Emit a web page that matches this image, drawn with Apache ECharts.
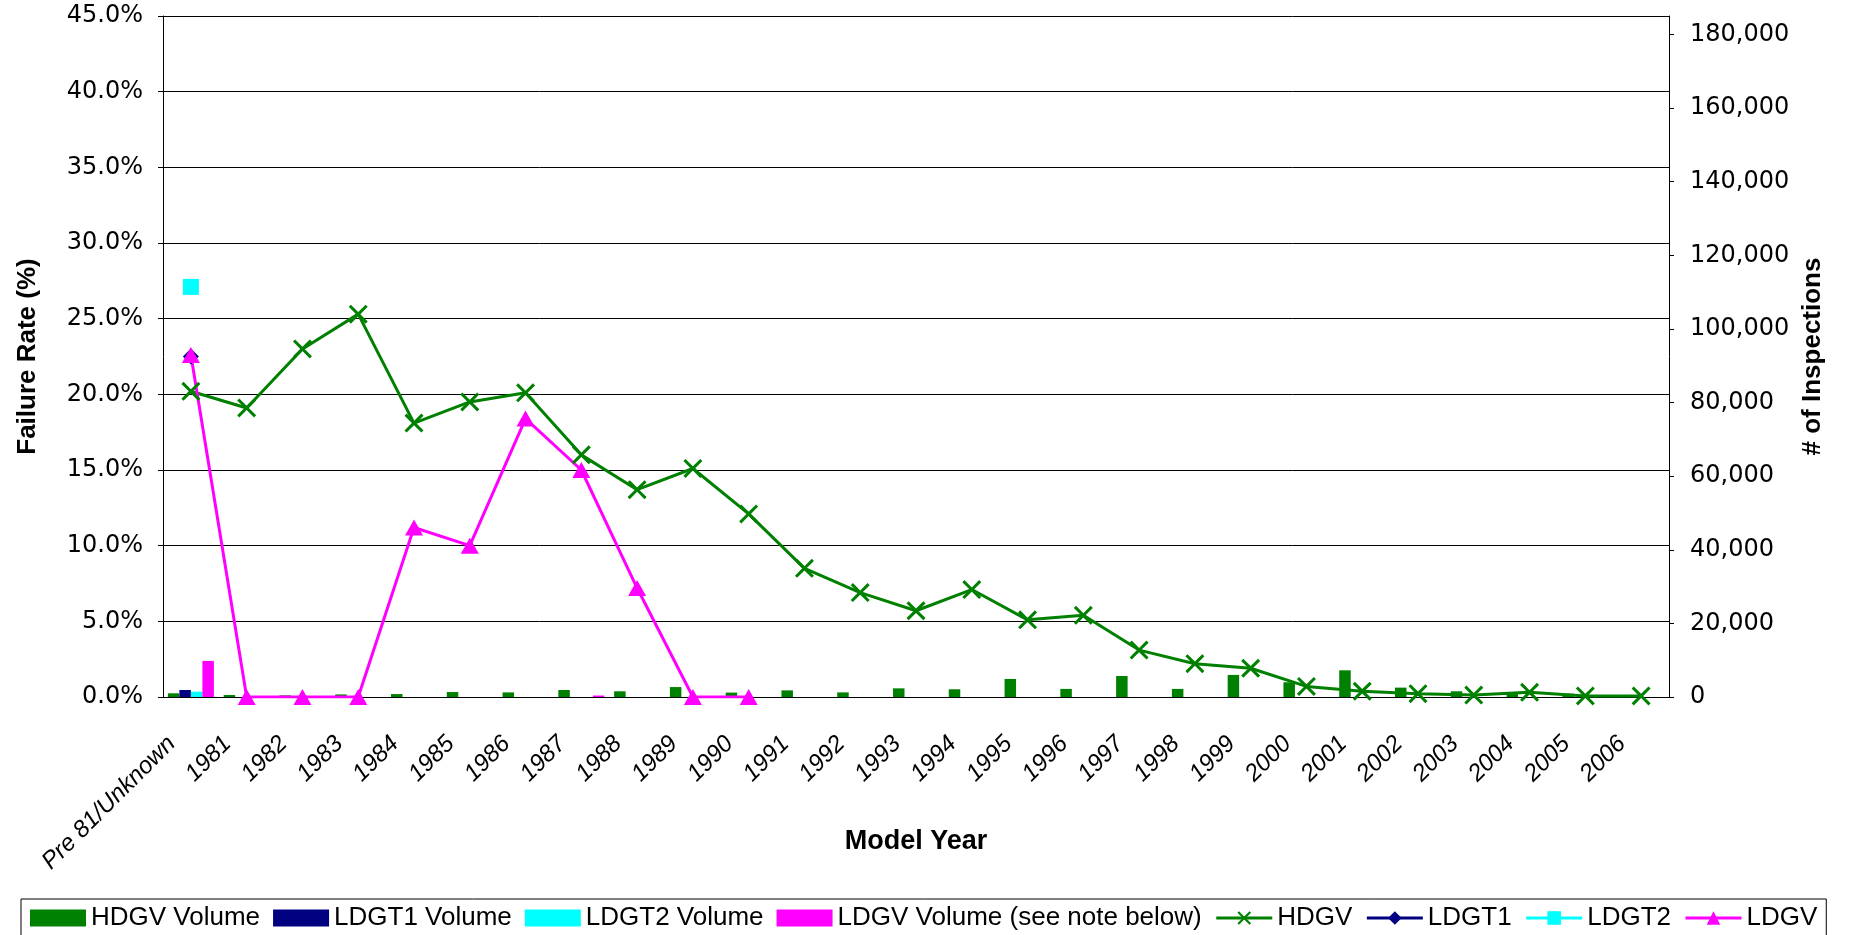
<!DOCTYPE html>
<html>
<head>
<meta charset="utf-8">
<script src="https://cdn.jsdelivr.net/npm/echarts@6/dist/echarts.min.js"></script>
<style>
  html, body { margin: 0; padding: 0; background: #fff; }
  #chart { width: 1864px; height: 935px; }
</style>
</head>
<body>
<div id="chart"></div>
<script>
// model years on the x axis
var categories = ['Pre 81/Unknown', '1981', '1982', '1983', '1984', '1985', '1986', '1987', '1988', '1989',
  '1990', '1991', '1992', '1993', '1994', '1995', '1996', '1997', '1998', '1999',
  '2000', '2001', '2002', '2003', '2004', '2005', '2006'];

// inspection volumes (right axis)
var hdgvVolume = [1000, 550, 450, 700, 800, 1350, 1250, 1900, 1550, 2700,
  1200, 1800, 1250, 2350, 2100, 4900, 2200, 5700, 2200, 6000,
  4000, 7250, 2550, 1550, 1100, 900, 350];
var ldgt1Volume = [1900];
var ldgt2Volume = [1450];
var ldgvVolume = [9800, null, null, null, null, null, null, 400];

// failure rates in % (left axis)
var hdgvRate = [20.2, 19.1, 23.0, 25.3, 18.1, 19.5, 20.1, 16.0, 13.7, 15.1,
  12.1, 8.5, 6.9, 5.7, 7.1, 5.1, 5.4, 3.1, 2.2, 1.9,
  0.7, 0.38, 0.22, 0.13, 0.31, 0.07, 0.07];
var ldgt1Rate = [22.5];
var ldgt2Rate = [27.1];
var ldgvRate = [22.6, 0, 0, 0, 11.2, 10.0, 18.4, 15.0, 7.2, 0, 0];

// tick labels of the right axis
var rightTicks = [0, 20000, 40000, 60000, 80000, 100000, 120000, 140000, 160000, 180000];

var tickFont = { fontFamily: 'DejaVu Sans', fontSize: 24, color: '#000' };
var titleFont = { fontFamily: 'Liberation Sans', fontWeight: 'bold', fontSize: 26, color: '#000' };
var xSymbol = 'path://M0,1.8 L1.8,0 L8,6.2 L14.2,0 L16,1.8 L9.8,8 L16,14.2 L14.2,16 L8,9.8 L1.8,16 L0,14.2 L6.2,8 Z';

var myChart = echarts.init(document.getElementById('chart'));
var option = {
  backgroundColor: '#fff',
  animation: false,
  grid: { left: 163, right: 195, top: 16, bottom: 238 },
  legend: {
    left: 21,
    top: 899,
    padding: [6, 9],
    itemWidth: 56,
    itemHeight: 17,
    itemGap: 13,
    borderColor: '#000',
    borderWidth: 1,
    lineStyle: { width: 3 },
    textStyle: { fontFamily: 'Liberation Sans', fontSize: 26, color: '#000' },
    data: [
      { name: 'HDGV Volume', icon: 'rect' },
      { name: 'LDGT1 Volume', icon: 'rect' },
      { name: 'LDGT2 Volume', icon: 'rect' },
      { name: 'LDGV Volume (see note below)', icon: 'rect' },
      'HDGV', 'LDGT1', 'LDGT2', 'LDGV'
    ]
  },
  xAxis: {
    type: 'category',
    data: categories,
    name: 'Model Year',
    nameLocation: 'middle',
    nameGap: 131,
    nameMoveOverlap: false,
    nameTextStyle: { fontFamily: 'Liberation Sans', fontWeight: 'bold', fontSize: 27, color: '#000' },
    axisLine: { lineStyle: { color: '#000', width: 1 } },
    axisTick: { length: 6, lineStyle: { color: '#000' } },
    axisLabel: {
      rotate: 45,
      interval: 0,
      margin: 24,
      padding: [0, 27, 0, 0],
      fontFamily: 'Liberation Sans',
      fontStyle: 'italic',
      fontSize: 24,
      color: '#000'
    }
  },
  yAxis: [
    {
      type: 'value',
      min: 0,
      max: 45,
      interval: 5,
      name: 'Failure Rate (%)',
      nameLocation: 'middle',
      nameRotate: 90,
      nameGap: 122,
      nameTextStyle: titleFont,
      axisLine: { show: true, lineStyle: { color: '#000' } },
      axisTick: { show: true, length: 5, lineStyle: { color: '#000' } },
      axisLabel: Object.assign({ margin: 20, formatter: function (v) { return v.toFixed(1) + '%'; } }, tickFont),
      splitLine: { lineStyle: { color: '#000', width: 1 } }
    },
    {
      type: 'value',
      position: 'right',
      min: 0,
      max: 185000,
      interval: 20000,
      name: '# of Inspections',
      nameLocation: 'middle',
      nameRotate: 90,
      nameGap: 128,
      nameTextStyle: titleFont,
      axisLine: { show: true, lineStyle: { color: '#000' } },
      axisTick: { show: true, length: 5, customValues: rightTicks, lineStyle: { color: '#000' } },
      axisLabel: Object.assign({
        margin: 21,
        customValues: rightTicks,
        formatter: function (v) { return v.toLocaleString('en-US'); }
      }, tickFont),
      splitLine: { show: false }
    }
  ],
  series: [
    { name: 'HDGV Volume', type: 'bar', yAxisIndex: 1, data: hdgvVolume, barWidth: 11.5, barGap: '0%', itemStyle: { color: '#008000' } },
    { name: 'LDGT1 Volume', type: 'bar', yAxisIndex: 1, data: ldgt1Volume, barWidth: 11.5, barGap: '0%', itemStyle: { color: '#000080' } },
    { name: 'LDGT2 Volume', type: 'bar', yAxisIndex: 1, data: ldgt2Volume, barWidth: 11.5, barGap: '0%', itemStyle: { color: '#00FFFF' } },
    { name: 'LDGV Volume (see note below)', type: 'bar', yAxisIndex: 1, data: ldgvVolume, barWidth: 11.5, barGap: '0%', itemStyle: { color: '#FF00FF' } },
    {
      name: 'HDGV', type: 'line', yAxisIndex: 0, data: hdgvRate,
      symbol: xSymbol, symbolSize: 19,
      lineStyle: { color: '#008000', width: 3 },
      itemStyle: { color: '#008000', borderWidth: 0 }
    },
    {
      name: 'LDGT1', type: 'line', yAxisIndex: 0, data: ldgt1Rate,
      symbol: 'diamond', symbolSize: 16,
      lineStyle: { color: '#000080', width: 3 },
      itemStyle: { color: '#000080', borderWidth: 0 }
    },
    {
      name: 'LDGT2', type: 'line', yAxisIndex: 0, data: ldgt2Rate,
      symbol: 'rect', symbolSize: 16,
      lineStyle: { color: '#00FFFF', width: 3 },
      itemStyle: { color: '#00FFFF', borderWidth: 0 }
    },
    {
      name: 'LDGV', type: 'line', yAxisIndex: 0, data: ldgvRate,
      symbol: 'triangle', symbolSize: [18, 16],
      lineStyle: { color: '#FF00FF', width: 3 },
      itemStyle: { color: '#FF00FF', borderWidth: 0 }
    }
  ]
};
option && myChart.setOption(option);
</script>
</body>
</html>
